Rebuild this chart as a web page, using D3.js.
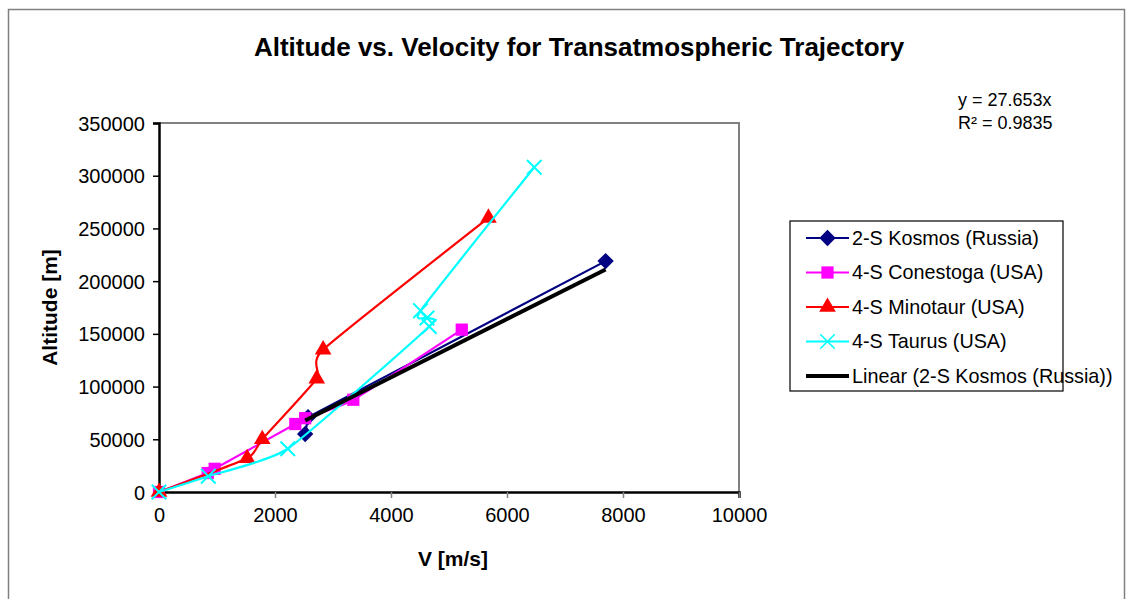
<!DOCTYPE html>
<html>
<head>
<meta charset="utf-8">
<script src="https://cdn.jsdelivr.net/npm/d3@7"></script>
<style>
    body { margin: 0; background: #fff; }
    text { font-family: Arial, "Liberation Sans", sans-serif; fill: #000; }
    .tick text { font-size: 20px; }
    .legendText { font-size: 19.8px; }
</style>
</head>
<body>
<div id="graph"></div>
<script>
// 
// Data...
// 
var kosmosV      = [2520, 2570, 7700];
var kosmosAlt    = [55000, 71000, 219000];

var conestogaV   = [0, 840, 960, 2350, 2520, 3350, 5220];
var conestogaAlt = [0, 18000, 22000, 64500, 70000, 87500, 154000];

var minotaurV    = [0, 1520, 1780, 2720, 2830, 5680];
var minotaurAlt  = [0, 32000, 50000, 107500, 135000, 260000];

var taurusV      = [0, 850, 2220, 4660, 4620, 4510, 6470];
var taurusAlt    = [0, 15000, 41000, 157000, 165000, 172000, 308000];

var trendSlope   = 27.653;
var trendR2      = 0.9835;

var xTicks = [0, 2000, 4000, 6000, 8000, 10000];
var yTicks = [0, 50000, 100000, 150000, 200000, 250000, 300000, 350000];

var seriesNames = [ '2-S Kosmos (Russia)', '4-S Conestoga (USA)', '4-S Minotaur (USA)', '4-S Taurus (USA)' ];
var trendName   = 'Linear (2-S Kosmos (Russia))';


function zip (xs, ys)
{
    return xs.map (function (x, i) { return { v: x, h: ys[i] }; });
}

var series = [
    { name: seriesNames[0], data: zip (kosmosV, kosmosAlt),       colour: '#000080', marker: 'diamond',  curve: d3.curveLinear },
    { name: seriesNames[1], data: zip (conestogaV, conestogaAlt), colour: '#ff00ff', marker: 'square',   curve: d3.curveCardinal.tension (0.5) },
    { name: seriesNames[2], data: zip (minotaurV, minotaurAlt),   colour: '#ff0000', marker: 'triangle', curve: d3.curveCardinal.tension (0.5) },
    { name: seriesNames[3], data: zip (taurusV, taurusAlt),       colour: '#00ffff', marker: 'cross',    curve: d3.curveCardinal.tension (0.5) }
];

//
// D3 Stuff...
//
var W = 1133, H = 599;
var plot = { left: 159, top: 123, right: 739, bottom: 492 };

var xScale = d3.scaleLinear ()
               .domain ([0, 10000])
               .range ([plot.left, plot.right]);

var yScale = d3.scaleLinear ()
               .domain ([0, 350000])
               .range ([plot.bottom, plot.top]);

var svg = d3.select ('div#graph')
            .append ('svg')
            .attr ('width', W)
            .attr ('height', H);

// chart frame
svg.append ('rect')
   .attr ('x', 8.5).attr ('y', 9.5)
   .attr ('width', 1116).attr ('height', 600)
   .attr ('fill', 'none')
   .attr ('stroke', '#808080')
   .attr ('stroke-width', 1.5);

// plot area frame (top + right)
svg.append ('path')
   .attr ('d', 'M' + plot.left + ',' + plot.top + 'H' + plot.right + 'V' + plot.bottom)
   .attr ('fill', 'none')
   .attr ('stroke', '#808080')
   .attr ('stroke-width', 2);

// Axes
var xAxis = d3.axisBottom (xScale)
              .tickValues (xTicks)
              .tickSize (6)
              .tickPadding (10)
              .tickFormat (d3.format ('d'));

var yAxis = d3.axisLeft (yScale)
              .tickValues (yTicks)
              .tickSize (6)
              .tickPadding (8)
              .tickFormat (d3.format ('d'));

svg.append ('g')
   .attr ('class', 'x axis')
   .attr ('transform', 'translate(0,' + plot.bottom + ')')
   .call (xAxis);

svg.append ('g')
   .attr ('class', 'y axis')
   .attr ('transform', 'translate(' + plot.left + ',0)')
   .call (yAxis);

svg.selectAll ('.axis .domain').attr ('stroke', '#000').attr ('stroke-width', 2.5);
svg.selectAll ('.axis .tick line').attr ('stroke', '#000').attr ('stroke-width', 1.5);
svg.selectAll ('.x.axis .tick line').attr ('stroke', '#808080');
svg.selectAll ('.axis .tick text').style ('font-size', '20px');
svg.selectAll ('.y.axis .tick text').attr ('dy', '0.35em');

// Marker shapes
var symbolFor = function (m)
{
    if (m === 'diamond')  return d3.symbol ().type (d3.symbolDiamond2).size (170);
    if (m === 'square')   return d3.symbol ().type (d3.symbolSquare).size (150);
    if (m === 'triangle') return d3.symbol ().type (d3.symbolTriangle).size (120);
    return d3.symbol ().type (d3.symbolX).size (140);
};

var plotG = svg.append ('g');

series.forEach (function (s)
{
    var line = d3.line ()
                 .x (function (d) { return xScale (d.v); })
                 .y (function (d) { return yScale (d.h); })
                 .curve (s.curve);

    plotG.append ('path')
         .datum (s.data)
         .attr ('d', line)
         .attr ('fill', 'none')
         .attr ('stroke', s.colour)
         .attr ('stroke-width', 2.2);

    plotG.selectAll (null)
         .data (s.data)
         .enter ()
         .append ('path')
         .attr ('transform', function (d) { return 'translate(' + xScale (d.v) + ',' + yScale (d.h) + ')'; })
         .attr ('d', symbolFor (s.marker))
         .attr ('fill', s.marker === 'cross' ? 'none' : s.colour)
         .attr ('stroke', s.colour)
         .attr ('stroke-width', s.marker === 'cross' ? 2 : 0);
});

// Linear trendline through origin, over the Kosmos V range
var vMin = d3.min (kosmosV), vMax = d3.max (kosmosV);
var trendLine = d3.line ()
                  .x (function (d) { return xScale (d); })
                  .y (function (d) { return yScale (trendSlope * d); });

plotG.append ('path')
     .datum ([vMin, vMax])
     .attr ('d', trendLine)
     .attr ('fill', 'none')
     .attr ('stroke', '#000')
     .attr ('stroke-width', 4)
     .attr ('transform', 'translate(0,2)');

//
// Titles...
//
svg.append ('text')
   .attr ('x', 579).attr ('y', 56)
   .style ('text-anchor', 'middle')
   .style ('font-size', '26px')
   .style ('font-weight', 'bold')
   .text ('Altitude vs. Velocity for Transatmospheric Trajectory');

svg.append ('text')
   .attr ('transform', 'translate(57,' + ((plot.top + plot.bottom) / 2) + ') rotate(-90)')
   .style ('text-anchor', 'middle')
   .style ('font-size', '21px')
   .style ('font-weight', 'bold')
   .text ('Altitude [m]');

svg.append ('text')
   .attr ('x', 453).attr ('y', 566)
   .style ('text-anchor', 'middle')
   .style ('font-size', '21px')
   .style ('font-weight', 'bold')
   .text ('V [m/s]');

// Trendline equation
svg.append ('text')
   .attr ('x', 958).attr ('y', 106)
   .style ('font-size', '18px')
   .text ('y = ' + trendSlope + 'x');

svg.append ('text')
   .attr ('x', 958).attr ('y', 129)
   .style ('font-size', '18px')
   .text ('R\u00b2 = ' + trendR2);

//
// Legend...
//
var legX = 790, legY = 221, legW = 273, legH = 170, legStep = 34.5;

svg.append ('rect')
   .attr ('x', legX).attr ('y', legY)
   .attr ('width', legW).attr ('height', legH)
   .attr ('fill', '#fff')
   .attr ('stroke', '#000')
   .attr ('stroke-width', 1.2);

var legendItems = series.concat ([{ name: trendName, colour: '#000', marker: null }]);

legendItems.forEach (function (s, i)
{
    var cy = legY + 17 + legStep * i;

    svg.append ('line')
       .attr ('x1', legX + 16).attr ('x2', legX + 59)
       .attr ('y1', cy).attr ('y2', cy)
       .attr ('stroke', s.colour)
       .attr ('stroke-width', s.marker ? 2 : 4);

    if (s.marker)
    {
        svg.append ('path')
           .attr ('transform', 'translate(' + (legX + 37.5) + ',' + cy + ')')
           .attr ('d', symbolFor (s.marker))
           .attr ('fill', s.marker === 'cross' ? 'none' : s.colour)
           .attr ('stroke', s.colour)
           .attr ('stroke-width', s.marker === 'cross' ? 1.5 : 0);
    }

    svg.append ('text')
       .attr ('class', 'legendText')
       .attr ('x', legX + 62).attr ('y', cy)
       .attr ('dy', '0.35em')
       .text (s.name);
});
</script>
</body>
</html>
